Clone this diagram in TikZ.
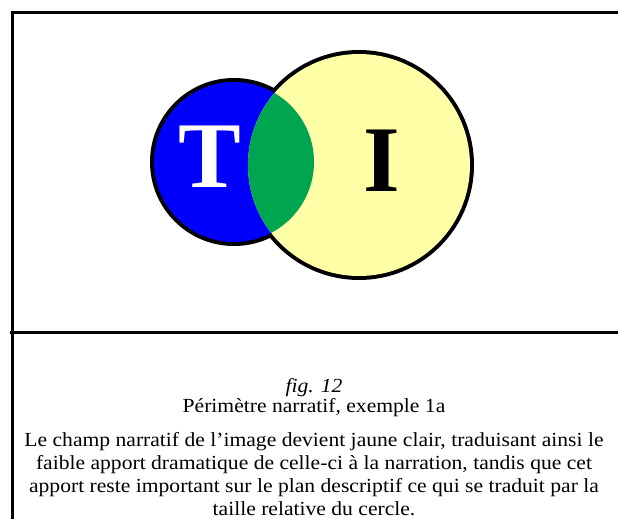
\documentclass[tikz,border=0pt]{standalone}
\usepackage{fontspec}
\setmainfont{Liberation Serif}
\newfontfamily\captionfont[FakeStretch=1.08]{Liberation Serif}
\usetikzlibrary{positioning}
\definecolor{tblue}{RGB}{0,0,252}
\definecolor{iyellow}{RGB}{255,255,168}
\definecolor{lensgreen}{RGB}{0,165,80}

\begin{document}
\begin{tikzpicture}[x=1pt,y=1pt,
    frameline/.style={line width=3pt},
    ringline/.style={line width=8pt},
    letter/.style={font=\fontsize{94}{94}\selectfont\bfseries},
    caption/.style={font=\captionfont\fontsize{20}{23}\selectfont, align=center}]
    \useasboundingbox (0,0) rectangle (618,519);

    % frame
    \draw[frameline] (618,506) -- (12,506) -- (12,0);
    \draw[frameline] (10,186) -- (618,186);

    % circles
    \draw[ringline] (234,357) circle (80);
    \draw[ringline] (359,354) circle (111);
    \fill[tblue] (234,357) circle (80);
    \fill[iyellow] (359,354) circle (111);
    \begin{scope}
        \clip (234,357) circle (80);
        \fill[lensgreen] (359,354) circle (111);
    \end{scope}

    \node[letter, white] (T) at (210,362) {T};
    \node[letter, black] (I) at (382,358) {I};

    % caption
    \node[caption, font=\captionfont\fontsize{20}{23}\selectfont\itshape] (fig) at (314,131) {fig. 12};
    \node[caption] (titre) at (314,111) {Périmètre narratif, exemple 1a};
    \node[caption] (texte) at (314,45) {Le champ narratif de l’image devient jaune clair, traduisant ainsi le\\
        faible apport dramatique de celle-ci à la narration, tandis que cet\\
        apport reste important sur le plan descriptif ce qui se traduit par la\\
        taille relative du cercle.};
\end{tikzpicture}
\end{document}
